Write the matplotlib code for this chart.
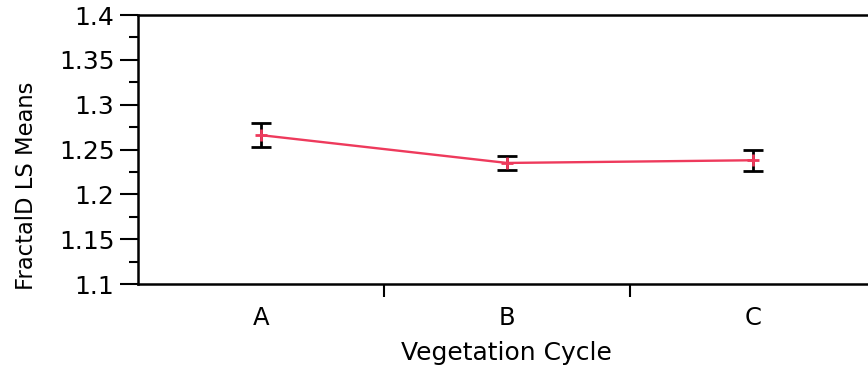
import matplotlib
matplotlib.use("Agg")
import matplotlib.pyplot as plt
from matplotlib.ticker import MultipleLocator, FixedLocator, NullFormatter

categories = ["A", "B", "C"]
means = [1.266, 1.235, 1.238]
errors = [0.013, 0.0077, 0.012]
y_ticks = [1.1, 1.15, 1.2, 1.25, 1.3, 1.35, 1.4]
y_tick_labels = ["1.1", "1.15", "1.2", "1.25", "1.3", "1.35", "1.4"]

plt.rcParams["font.family"] = ["DejaVu Sans"]

fig = plt.figure(figsize=(8.68, 3.70), dpi=100)
ax = fig.add_axes([138/868, 1 - 284/370, 738/868, 269/370])

x = list(range(len(categories)))
ax.plot(x, means, color="#EE3A5C", lw=1.7, marker="+", ms=9, mew=2.0, zorder=3)
ax.errorbar(x, means, yerr=errors, fmt="none", ecolor="black", elinewidth=2.0,
            capsize=7.5, capthick=2.0, zorder=2)

ax.set_xlim(-0.5, 2.5)
ax.set_ylim(1.1, 1.4)

ax.set_xticks(x)
ax.set_xticklabels(categories, fontsize=17.5)
ax.tick_params(axis="x", which="major", length=0, pad=16)
ax.xaxis.set_minor_locator(FixedLocator([0.5, 1.5]))
ax.xaxis.set_minor_formatter(NullFormatter())
ax.tick_params(axis="x", which="minor", length=9, width=1.5, direction="out")

ax.set_yticks(y_ticks)
ax.set_yticklabels(y_tick_labels, fontsize=18)
ax.yaxis.set_minor_locator(MultipleLocator(0.025))
ax.tick_params(axis="y", which="major", length=13, width=1.5, pad=4, direction="out")
ax.tick_params(axis="y", which="minor", length=6.5, width=1.5, direction="out")

for s in ["left", "top", "bottom"]:
    ax.spines[s].set_linewidth(1.8)
ax.spines["right"].set_visible(False)

ax.set_xlabel("Vegetation Cycle", fontsize=18)
ax.xaxis.set_label_coords(0.4986, -0.212)
ax.set_ylabel("FractalD LS Means", fontsize=16.3)
ax.yaxis.set_label_coords(-0.1355, 0.364)

fig.savefig("out.png", dpi=100)
